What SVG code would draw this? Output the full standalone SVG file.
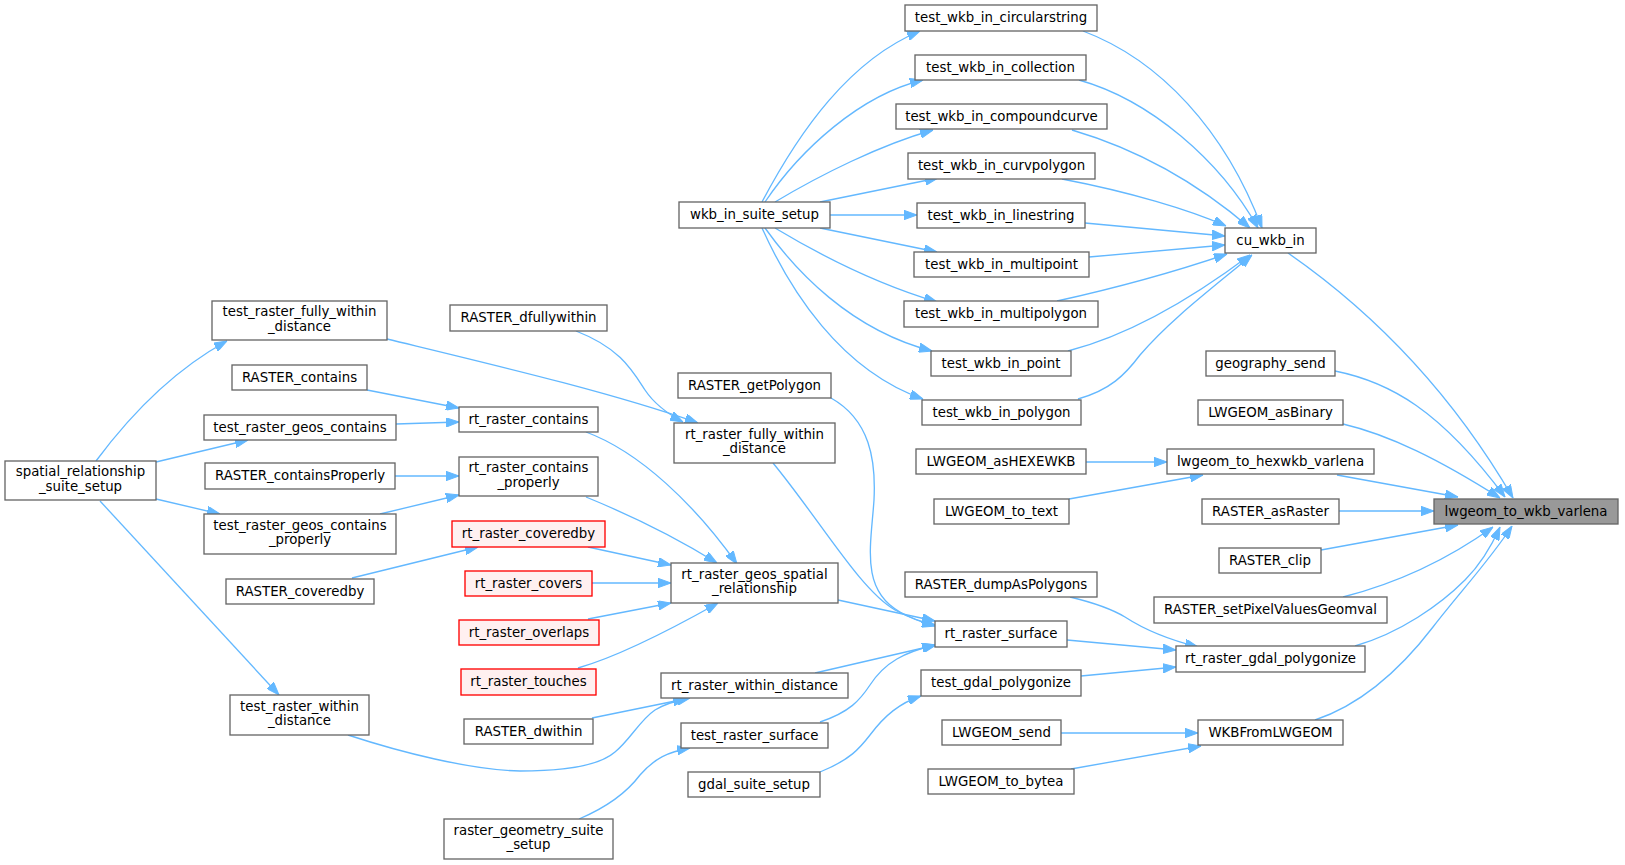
<svg xmlns="http://www.w3.org/2000/svg" width="1625" height="865" viewBox="0 0 1625 865">
<style>
rect{fill:#ffffff;stroke:#666666;stroke-width:1.33}
.red rect{fill:#fff0f0;stroke:#ff0000}
.main rect{fill:#999999;stroke:#666666}
text{font-family:"DejaVu Sans",sans-serif;font-size:13.33px;fill:#000000;text-anchor:middle}
#edges path{fill:none;stroke:#63b8ff;stroke-width:1.33;marker-end:url(#ah)}
</style>
<defs>
<marker id="ah" markerWidth="13" markerHeight="9.4" refX="13" refY="4.7" orient="auto" markerUnits="userSpaceOnUse"><path d="M0,0 L13,4.7 L0,9.4 z" fill="#63b8ff" stroke="#63b8ff" stroke-width="1"/></marker>
</defs>
<rect x="0" y="0" width="1625" height="865" style="fill:#ffffff;stroke:none"/>
<g id="edges">
<path d="M96,461 C128,418 170,372 227,341"/>
<path d="M156,462 L248,440"/>
<path d="M156,499 L220,514"/>
<path d="M100,501 L279,695"/>
<path d="M387,339 C490,364 610,392 698,423"/>
<path d="M576,331 C620,348 632,370 645,390 C655,405 668,414 683,422"/>
<path d="M367,390 L459,408"/>
<path d="M396,424 L459,422"/>
<path d="M395,476 L459,476"/>
<path d="M380,514 L459,495"/>
<path d="M352,578 L478,547"/>
<path d="M586,432 C640,452 695,505 737,564"/>
<path d="M586,497 C630,515 680,540 717,563"/>
<path d="M588,547 L671,565"/>
<path d="M592,583 L671,583"/>
<path d="M588,619 L671,603"/>
<path d="M578,668 C620,656 670,630 718,603"/>
<path d="M773,463 C820,520 860,590 895,610 C910,618 920,622 935,626"/>
<path d="M831,398 C870,420 876,460 874,500 C871,545 860,590 900,612 C912,619 922,622 935,625"/>
<path d="M838,600 L935,621"/>
<path d="M815,673 L936,645"/>
<path d="M820,722 C850,712 860,700 870,685 C885,662 905,652 935,645"/>
<path d="M592,718 L690,698"/>
<path d="M348,735 C400,752 470,770 520,771 C570,771 600,765 615,752 C630,740 640,720 655,710 C665,704 675,701 686,699"/>
<path d="M579,819 C605,808 625,795 640,775 C655,758 668,752 690,748"/>
<path d="M820,772 C850,760 860,748 870,735 C885,715 900,703 921,696"/>
<path d="M1067,640 L1176,650"/>
<path d="M1081,676 L1176,667"/>
<path d="M1070,597 C1095,603 1110,608 1125,617 C1145,630 1170,640 1198,647"/>
<path d="M1061,733 L1198,733"/>
<path d="M1071,769 L1201,746"/>
<path d="M1086,462 L1167,462"/>
<path d="M1069,499 L1203,475"/>
<path d="M762,202 C800,130 850,60 920,31"/>
<path d="M765,202 C800,150 860,95 923,80"/>
<path d="M775,202 C820,175 880,145 933,130"/>
<path d="M820,202 L938,178"/>
<path d="M830,215 L917,215"/>
<path d="M820,228 L937,252"/>
<path d="M775,228 C820,255 880,285 937,302"/>
<path d="M765,228 C795,270 850,330 932,351"/>
<path d="M762,228 C790,290 840,370 923,399"/>
<path d="M1083,31 C1160,60 1225,130 1262,228"/>
<path d="M1079,80 C1150,100 1220,160 1258,228"/>
<path d="M1072,130 C1140,150 1200,185 1250,228"/>
<path d="M1062,179 C1130,192 1190,210 1226,226"/>
<path d="M1085,223 L1225,236"/>
<path d="M1089,257 L1225,245"/>
<path d="M1057,301 C1120,287 1180,270 1227,254"/>
<path d="M1068,351 C1130,335 1190,300 1250,255"/>
<path d="M1078,399 C1110,390 1125,375 1140,355 C1170,320 1210,290 1252,255"/>
<path d="M1288,253 C1370,310 1450,390 1513,498"/>
<path d="M1335,371 C1390,382 1440,410 1505,497"/>
<path d="M1343,424 C1390,435 1440,460 1500,498"/>
<path d="M1337,475 L1458,497"/>
<path d="M1339,511 L1434,511"/>
<path d="M1321,550 L1458,525"/>
<path d="M1343,597 C1390,585 1440,565 1493,527"/>
<path d="M1355,646 C1400,633 1440,605 1465,580 C1480,565 1492,545 1500,527"/>
<path d="M1315,720 C1360,705 1400,670 1433,627 C1460,592 1490,560 1512,526"/>
</g>
<g id="n_spatial_relationship_suite_setup"><rect x="5" y="461" width="151" height="39"/><text x="80.5" y="476">spatial_relationship</text><text x="80.5" y="490.5">_suite_setup</text></g>
<g id="n_test_raster_fully_within_distance"><rect x="212" y="301" width="175" height="39"/><text x="299.5" y="316">test_raster_fully_within</text><text x="299.5" y="330.5">_distance</text></g>
<g id="n_RASTER_contains"><rect x="232" y="365" width="135" height="25"/><text x="299.5" y="381.5">RASTER_contains</text></g>
<g id="n_test_raster_geos_contains"><rect x="204" y="415" width="192" height="25"/><text x="300" y="431.5">test_raster_geos_contains</text></g>
<g id="n_RASTER_containsProperly"><rect x="205" y="463" width="190" height="26"/><text x="300" y="480">RASTER_containsProperly</text></g>
<g id="n_test_raster_geos_contains_properly"><rect x="204" y="514" width="192" height="40"/><text x="300" y="529.5">test_raster_geos_contains</text><text x="300" y="544">_properly</text></g>
<g id="n_RASTER_coveredby"><rect x="226" y="579" width="148" height="25"/><text x="300" y="595.5">RASTER_coveredby</text></g>
<g id="n_test_raster_within_distance"><rect x="230" y="695" width="139" height="40"/><text x="299.5" y="710.5">test_raster_within</text><text x="299.5" y="725">_distance</text></g>
<g id="n_RASTER_dfullywithin"><rect x="450" y="305" width="157" height="26"/><text x="528.5" y="322">RASTER_dfullywithin</text></g>
<g id="n_rt_raster_contains"><rect x="459" y="407" width="139" height="25"/><text x="528.5" y="423.5">rt_raster_contains</text></g>
<g id="n_rt_raster_contains_properly"><rect x="459" y="457" width="139" height="39"/><text x="528.5" y="472">rt_raster_contains</text><text x="528.5" y="486.5">_properly</text></g>
<g id="n_rt_raster_coveredby" class="red"><rect x="452" y="521" width="153" height="26"/><text x="528.5" y="538">rt_raster_coveredby</text></g>
<g id="n_rt_raster_covers" class="red"><rect x="465" y="571" width="127" height="25"/><text x="528.5" y="587.5">rt_raster_covers</text></g>
<g id="n_rt_raster_overlaps" class="red"><rect x="459" y="620" width="140" height="25"/><text x="529" y="636.5">rt_raster_overlaps</text></g>
<g id="n_rt_raster_touches" class="red"><rect x="461" y="669" width="135" height="26"/><text x="528.5" y="686">rt_raster_touches</text></g>
<g id="n_RASTER_dwithin"><rect x="464" y="719" width="129" height="25"/><text x="528.5" y="735.5">RASTER_dwithin</text></g>
<g id="n_raster_geometry_suite_setup"><rect x="444" y="819" width="169" height="40"/><text x="528.5" y="834.5">raster_geometry_suite</text><text x="528.5" y="849">_setup</text></g>
<g id="n_RASTER_getPolygon"><rect x="678" y="373" width="153" height="25"/><text x="754.5" y="389.5">RASTER_getPolygon</text></g>
<g id="n_rt_raster_fully_within_distance"><rect x="674" y="423" width="161" height="40"/><text x="754.5" y="438.5">rt_raster_fully_within</text><text x="754.5" y="453">_distance</text></g>
<g id="n_rt_raster_geos_spatial_relationship"><rect x="671" y="563" width="167" height="40"/><text x="754.5" y="578.5">rt_raster_geos_spatial</text><text x="754.5" y="593">_relationship</text></g>
<g id="n_rt_raster_within_distance"><rect x="661" y="673" width="187" height="25"/><text x="754.5" y="689.5">rt_raster_within_distance</text></g>
<g id="n_test_raster_surface"><rect x="681" y="723" width="147" height="25"/><text x="754.5" y="739.5">test_raster_surface</text></g>
<g id="n_gdal_suite_setup"><rect x="688" y="772" width="132" height="25"/><text x="754" y="788.5">gdal_suite_setup</text></g>
<g id="n_wkb_in_suite_setup"><rect x="679" y="202" width="151" height="26"/><text x="754.5" y="219">wkb_in_suite_setup</text></g>
<g id="n_test_wkb_in_circularstring"><rect x="905" y="5" width="192" height="26"/><text x="1001" y="22">test_wkb_in_circularstring</text></g>
<g id="n_test_wkb_in_collection"><rect x="915" y="55" width="171" height="25"/><text x="1000.5" y="71.5">test_wkb_in_collection</text></g>
<g id="n_test_wkb_in_compoundcurve"><rect x="896" y="104" width="211" height="25"/><text x="1001.5" y="120.5">test_wkb_in_compoundcurve</text></g>
<g id="n_test_wkb_in_curvpolygon"><rect x="908" y="153" width="187" height="26"/><text x="1001.5" y="170">test_wkb_in_curvpolygon</text></g>
<g id="n_test_wkb_in_linestring"><rect x="917" y="203" width="168" height="25"/><text x="1001" y="219.5">test_wkb_in_linestring</text></g>
<g id="n_test_wkb_in_multipoint"><rect x="914" y="252" width="175" height="25"/><text x="1001.5" y="268.5">test_wkb_in_multipoint</text></g>
<g id="n_test_wkb_in_multipolygon"><rect x="904" y="301" width="194" height="26"/><text x="1001" y="318">test_wkb_in_multipolygon</text></g>
<g id="n_test_wkb_in_point"><rect x="931" y="351" width="140" height="25"/><text x="1001" y="367.5">test_wkb_in_point</text></g>
<g id="n_test_wkb_in_polygon"><rect x="922" y="400" width="159" height="25"/><text x="1001.5" y="416.5">test_wkb_in_polygon</text></g>
<g id="n_LWGEOM_asHEXEWKB"><rect x="916" y="449" width="170" height="25"/><text x="1001" y="465.5">LWGEOM_asHEXEWKB</text></g>
<g id="n_LWGEOM_to_text"><rect x="934" y="499" width="135" height="25"/><text x="1001.5" y="515.5">LWGEOM_to_text</text></g>
<g id="n_RASTER_dumpAsPolygons"><rect x="905" y="572" width="192" height="25"/><text x="1001" y="588.5">RASTER_dumpAsPolygons</text></g>
<g id="n_rt_raster_surface"><rect x="935" y="621" width="132" height="26"/><text x="1001" y="638">rt_raster_surface</text></g>
<g id="n_test_gdal_polygonize"><rect x="921" y="670" width="160" height="26"/><text x="1001" y="687">test_gdal_polygonize</text></g>
<g id="n_LWGEOM_send"><rect x="942" y="720" width="119" height="25"/><text x="1001.5" y="736.5">LWGEOM_send</text></g>
<g id="n_LWGEOM_to_bytea"><rect x="928" y="769" width="146" height="25"/><text x="1001" y="785.5">LWGEOM_to_bytea</text></g>
<g id="n_cu_wkb_in"><rect x="1225" y="228" width="91" height="25"/><text x="1270.5" y="244.5">cu_wkb_in</text></g>
<g id="n_geography_send"><rect x="1206" y="351" width="129" height="25"/><text x="1270.5" y="367.5">geography_send</text></g>
<g id="n_LWGEOM_asBinary"><rect x="1198" y="400" width="145" height="25"/><text x="1270.5" y="416.5">LWGEOM_asBinary</text></g>
<g id="n_lwgeom_to_hexwkb_varlena"><rect x="1167" y="449" width="207" height="25"/><text x="1270.5" y="465.5">lwgeom_to_hexwkb_varlena</text></g>
<g id="n_RASTER_asRaster"><rect x="1202" y="499" width="137" height="25"/><text x="1270.5" y="515.5">RASTER_asRaster</text></g>
<g id="n_RASTER_clip"><rect x="1219" y="548" width="102" height="25"/><text x="1270" y="564.5">RASTER_clip</text></g>
<g id="n_RASTER_setPixelValuesGeomval"><rect x="1154" y="597" width="233" height="26"/><text x="1270.5" y="614">RASTER_setPixelValuesGeomval</text></g>
<g id="n_rt_raster_gdal_polygonize"><rect x="1176" y="646" width="189" height="26"/><text x="1270.5" y="663">rt_raster_gdal_polygonize</text></g>
<g id="n_WKBFromLWGEOM"><rect x="1198" y="720" width="145" height="25"/><text x="1270.5" y="736.5">WKBFromLWGEOM</text></g>
<g id="n_lwgeom_to_wkb_varlena" class="main"><rect x="1434" y="499" width="184" height="25"/><text x="1526" y="515.5">lwgeom_to_wkb_varlena</text></g>
</svg>
